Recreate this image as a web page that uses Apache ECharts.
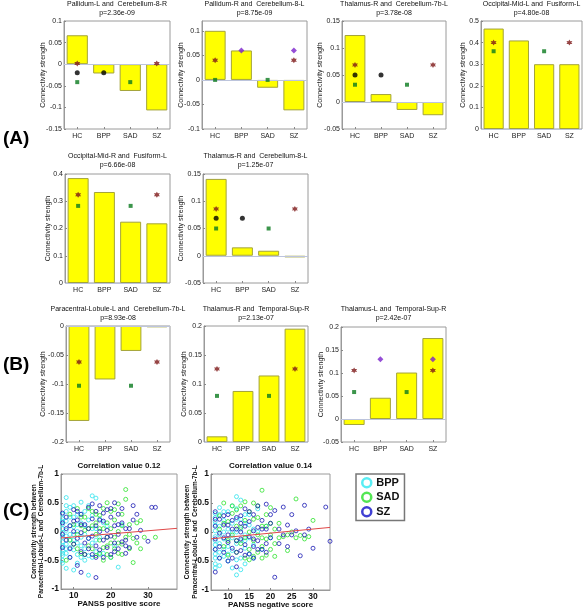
<!DOCTYPE html>
<html><head><meta charset="utf-8">
<script src="https://cdn.jsdelivr.net/npm/echarts@6/dist/echarts.min.js"></script>
<style>html,body{margin:0;padding:0;background:#fff}#c{width:585px;height:610px}</style>
</head><body><div id="c"></div>
<script>
// ---------- DATA ----------
const categories = ['HC', 'BPP', 'SAD', 'SZ'];

const p1Title = 'Pallidum-L and  Cerebellum-8-R', p1P = 'p=2.36e-09';
const p1Bars = [0.067, -0.0215, -0.062, -0.107];
const p1Star = [['HC', 0.0015], ['SZ', 0.0015]];
const p1Circle = [['HC', -0.02], ['BPP', -0.02]];
const p1Square = [['HC', -0.0415], ['SAD', -0.0415]];
const p1Diamond = [];
const p1Ticks = [-0.15, -0.1, -0.05, 0, 0.05, 0.1];

const p2Title = 'Pallidum-R and  Cerebellum-8-L', p2P = 'p=8.75e-09';
const p2Bars = [0.1, 0.06, -0.016, -0.062];
const p2Star = [['HC', 0.04], ['SZ', 0.04]];
const p2Circle = [];
const p2Square = [['HC', 0.0], ['SAD', 0.0]];
const p2Diamond = [['BPP', 0.06], ['SZ', 0.06]];
const p2Ticks = [-0.1, -0.05, 0, 0.05, 0.1];

const p3Title = 'Thalamus-R and  Cerebellum-7b-L', p3P = 'p=3.78e-08';
const p3Bars = [0.124, 0.0147, -0.0147, -0.0245];
const p3Star = [['HC', 0.0687], ['SZ', 0.0687]];
const p3Circle = [['HC', 0.05], ['BPP', 0.05]];
const p3Square = [['HC', 0.032], ['SAD', 0.032]];
const p3Diamond = [];
const p3Ticks = [-0.05, 0, 0.05, 0.1, 0.15];

const p4Title = 'Occipital-Mid-L and  Fusiform-L', p4P = 'p=4.80e-08';
const p4Bars = [0.465, 0.41, 0.30, 0.30];
const p4Star = [['HC', 0.40], ['SZ', 0.40]];
const p4Circle = [];
const p4Square = [['HC', 0.36], ['SAD', 0.36]];
const p4Diamond = [];
const p4Ticks = [0, 0.1, 0.2, 0.3, 0.4, 0.5];

const p5Title = 'Occipital-Mid-R and  Fusiform-L', p5P = 'p=6.66e-08';
const p5Bars = [0.385, 0.334, 0.225, 0.219];
const p5Star = [['HC', 0.324], ['SZ', 0.324]];
const p5Circle = [];
const p5Square = [['HC', 0.283], ['SAD', 0.283]];
const p5Diamond = [];
const p5Ticks = [0, 0.1, 0.2, 0.3, 0.4];

const p6Title = 'Thalamus-R and  Cerebellum-8-L', p6P = 'p=1.25e-07';
const p6Bars = [0.141, 0.0154, 0.0092, -0.003];
const p6Star = [['HC', 0.086], ['SZ', 0.086]];
const p6Circle = [['HC', 0.069], ['BPP', 0.069]];
const p6Square = [['HC', 0.05], ['SAD', 0.05]];
const p6Diamond = [];
const p6Ticks = [-0.05, 0, 0.05, 0.1, 0.15];

const p7Title = 'Paracentral-Lobule-L and  Cerebellum-7b-L', p7P = 'p=8.93e-08';
const p7Bars = [-0.1637, -0.0922, -0.043, -0.0023];
const p7Star = [['HC', -0.062], ['SZ', -0.062]];
const p7Circle = [];
const p7Square = [['HC', -0.103], ['SAD', -0.103]];
const p7Diamond = [];
const p7Ticks = [-0.2, -0.15, -0.1, -0.05, 0];

const p8Title = 'Thalamus-R and  Temporal-Sup-R', p8P = 'p=2.13e-07';
const p8Bars = [0.0098, 0.088, 0.1147, 0.1954];
const p8Star = [['HC', 0.126], ['SZ', 0.126]];
const p8Circle = [];
const p8Square = [['HC', 0.0795], ['SAD', 0.0795]];
const p8Diamond = [];
const p8Ticks = [0, 0.05, 0.1, 0.15, 0.2];

const p9Title = 'Thalamus-L and  Temporal-Sup-R', p9P = 'p=2.42e-07';
const p9Bars = [-0.013, 0.0462, 0.101, 0.176];
const p9Star = [['HC', 0.1056], ['SZ', 0.1056]];
const p9Circle = [];
const p9Square = [['HC', 0.0586], ['SAD', 0.0586]];
const p9Diamond = [['BPP', 0.1297], ['SZ', 0.1297]];
const p9Ticks = [-0.05, 0, 0.05, 0.1, 0.15, 0.2];

// scatter: PANSS positive
const posTitle = 'Correlation value 0.12';
const posXTicks = [10, 20, 30];
const bppPos = [[7,0.30],[7,0.22],[7,0.12],[7,0.05],[7,-0.02],[7,-0.10],[7,-0.18],[7,-0.25],[7,-0.33],[7,-0.42],[7,-0.50],[7,-0.55],
[8,0.59],[8,0.35],[8,0.18],[8,0.02],[8,-0.08],[8,-0.22],[8,-0.38],[8,-0.64],[9,0.42],[9,0.10],[9,-0.05],[9,-0.28],[9,-0.45],
[10,0.25],[10,0.08],[10,-0.15],[10,-0.32],[10,-0.67],[11,0.30],[11,0.00],[11,-0.20],[11,-0.40],[12,0.51],[12,0.15],[12,-0.10],[12,-0.25],[12,-0.45],
[13,0.35],[13,-0.05],[13,-0.30],[14,0.20],[14,-0.12],[14,-0.42],[14,-0.76],[15,0.62],[15,0.28],[15,-0.20],[16,0.58],[16,0.05],[16,-0.35],
[17,0.22],[17,-0.10],[18,-0.38],[19,0.10],[20,-0.45],[22,-0.62],[23,0.12],
[7,0.18],[7,-0.38],[8,0.45],[8,-0.30],[9,0.25],[9,-0.15],[10,0.45],[10,-0.05],[11,0.12],[11,-0.55],[12,0.30],[13,0.10],[13,-0.50],
[14,0.45],[15,0.05],[15,-0.45],[16,-0.15],[17,-0.40],[18,0.15],[21,-0.25]];
const sadPos = [[8,-0.50],[9,0.30],[10,-0.22],[11,0.40],[11,-0.05],[12,0.10],[12,-0.38],[13,0.25],[13,-0.40],[14,0.05],[14,-0.25],[15,0.35],[15,-0.30],
[16,0.15],[16,-0.05],[16,-0.42],[17,0.28],[17,-0.15],[17,-0.38],[18,0.05],[18,-0.28],[18,-0.50],[19,0.50],[19,0.15],[19,-0.10],[19,-0.40],
[20,0.35],[20,-0.20],[20,-0.45],[21,0.20],[21,-0.30],[22,0.48],[22,0.00],[22,-0.38],[23,0.10],[23,-0.22],[24,0.73],[24,0.56],[24,-0.10],
[25,-0.05],[25,-0.30],[26,-0.54],[26,-0.12],[27,0.15],[28,0.19],[29,-0.10],[32,-0.10],[38,0.42],
[9,-0.15],[10,0.12],[11,-0.30],[12,0.25],[13,0.02],[14,0.40],[15,0.10],[16,0.30],[17,0.05],[18,0.40],[19,-0.25],[20,0.05],[21,-0.10],
[21,0.38],[22,-0.20],[23,0.30],[23,-0.40],[25,0.12],[27,-0.20],[28,-0.30]];
const szPos = [[7,0.32],[7,0.15],[7,-0.05],[7,-0.28],[8,0.25],[8,-0.15],[9,0.10],[9,-0.30],[10,0.38],[10,0.00],[10,-0.22],[11,0.20],[11,-0.12],[11,-0.59],
[12,0.30],[12,-0.02],[12,-0.35],[12,-0.71],[13,0.12],[13,-0.20],[14,0.42],[14,0.05],[14,-0.30],[15,0.22],[15,-0.08],[15,-0.40],
[16,0.35],[16,0.10],[16,-0.25],[16,-0.80],[17,0.45],[17,0.00],[17,-0.32],[18,0.18],[18,-0.15],[18,-0.45],[19,0.38],[19,0.02],[19,-0.28],
[20,0.25],[20,-0.08],[20,-0.40],[21,0.50],[21,0.10],[21,-0.20],[22,0.30],[22,-0.05],[22,-0.30],[23,0.40],[23,0.15],[24,-0.15],[24,-0.25],[24,-0.38],
[25,0.05],[26,0.45],[27,-0.10],[28,0.02],[30,-0.17],[31,0.42],[32,0.42],
[8,0.05],[9,-0.45],[10,0.18],[11,0.35],[12,0.12],[13,-0.40],[14,-0.12],[15,0.48],[16,-0.45],[17,0.20],[18,0.32],[19,-0.10],[20,0.40],
[21,-0.35],[22,0.12],[23,-0.18],[24,0.05],[25,-0.28],[26,0.20],[27,0.30]];
const fitPos = [[6.6,-0.113],[37.8,0.055]];

// scatter: PANSS negative
const negTitle = 'Correlation value 0.14';
const negXTicks = [10, 15, 20, 25, 30];
const bppNeg = [[7,0.25],[7,0.12],[7,0.02],[7,-0.08],[7,-0.15],[7,-0.22],[7,-0.30],[7,-0.38],[7,-0.45],[7,-0.55],[7,-0.62],
[8,0.30],[8,0.10],[8,-0.05],[8,-0.20],[8,-0.35],[8,-0.58],[9,0.20],[9,0.00],[9,-0.12],[9,-0.42],[10,0.35],[10,0.05],[10,-0.25],[10,-0.50],
[11,0.15],[11,-0.10],[11,-0.32],[11,-0.62],[12,0.61],[12,0.40],[12,0.00],[12,-0.20],[12,-0.74],[13,0.55],[13,0.22],[13,-0.15],[13,-0.45],
[14,0.30],[14,-0.05],[14,-0.28],[14,-0.55],[15,0.12],[15,-0.38],[16,0.05],[16,-0.22],[17,0.40],[18,-0.30],[19,0.10],[20,-0.10],
[7,0.32],[7,0.18],[8,0.42],[8,-0.45],[9,0.35],[9,-0.30],[10,-0.12],[10,-0.38],[11,0.45],[11,0.00],[12,0.22],[12,-0.48],[13,0.05],[13,-0.65],
[14,0.15],[14,-0.15],[15,0.30],[15,-0.10],[16,-0.45],[17,0.00]];
const sadNeg = [[8,0.28],[9,0.50],[9,-0.25],[10,0.18],[10,-0.40],[11,0.32],[11,-0.05],[12,0.10],[12,-0.35],[13,0.45],[13,-0.20],[14,0.20],[14,-0.45],
[15,0.35],[15,0.00],[15,-0.30],[16,0.50],[16,-0.15],[16,-0.42],[17,0.25],[17,-0.05],[17,-0.35],[18,0.72],[18,0.10],[18,-0.25],[18,-0.45],
[19,0.30],[19,-0.12],[20,0.15],[20,-0.30],[21,0.05],[21,-0.42],[22,-0.10],[23,-0.08],[24,-0.05],[25,0.00],[26,0.57],[26,-0.10],[27,-0.06],
[28,-0.12],[29,-0.08],[30,0.20],
[8,0.05],[9,0.15],[10,-0.15],[11,0.45],[12,0.38],[12,-0.15],[13,0.08],[14,-0.10],[14,0.52],[15,-0.48],[16,0.22],[17,0.45],[18,-0.10],
[19,0.10],[19,-0.40],[20,0.42],[20,-0.05],[21,-0.20],[22,0.15],[24,-0.32]];
const szNeg = [[7,0.35],[7,0.10],[7,-0.12],[7,-0.30],[7,-0.69],[8,0.22],[8,-0.02],[8,-0.25],[9,0.12],[9,-0.10],[9,-0.35],[10,0.30],[10,-0.05],[10,-0.18],
[11,0.20],[11,-0.28],[11,-0.45],[12,0.05],[12,-0.15],[12,-0.60],[13,0.28],[13,0.00],[13,-0.32],[14,0.40],[14,0.10],[14,-0.22],[15,0.18],[15,-0.08],[15,-0.38],
[16,0.30],[16,0.02],[16,-0.25],[17,0.45],[17,0.08],[17,-0.15],[18,0.20],[18,-0.30],[19,0.48],[19,0.05],[19,-0.20],[20,0.15],[20,-0.10],
[21,0.37],[21,-0.78],[22,0.05],[23,0.43],[23,-0.05],[24,0.12],[25,0.30],[25,-0.05],[26,0.02],[27,-0.41],[28,0.46],[28,-0.05],[29,0.05],
[30,-0.28],[33,0.43],[34,-0.16],
[7,0.22],[8,-0.45],[9,0.28],[10,0.12],[10,-0.50],[11,0.05],[12,0.25],[12,-0.35],[13,0.15],[13,-0.12],[14,-0.40],[15,0.35],[16,-0.12],
[16,-0.45],[17,-0.30],[18,0.05],[19,-0.35],[20,0.30],[22,-0.20],[24,-0.25]];
const fitNeg = [[6,-0.118],[34,0.079]];
const groupNames = ['BPP', 'SAD', 'SZ'];

// ---------- LAYOUT / STYLE ----------
const FONT = '"Liberation Sans", Arial, sans-serif';
const barPanels = [
  {t:p1Title,p:p1P,bars:p1Bars,star:p1Star,circle:p1Circle,square:p1Square,diamond:p1Diamond,ticks:p1Ticks,min:-0.15,max:0.1},
  {t:p2Title,p:p2P,bars:p2Bars,star:p2Star,circle:p2Circle,square:p2Square,diamond:p2Diamond,ticks:p2Ticks,min:-0.1,max:0.12},
  {t:p3Title,p:p3P,bars:p3Bars,star:p3Star,circle:p3Circle,square:p3Square,diamond:p3Diamond,ticks:p3Ticks,min:-0.05,max:0.15},
  {t:p4Title,p:p4P,bars:p4Bars,star:p4Star,circle:p4Circle,square:p4Square,diamond:p4Diamond,ticks:p4Ticks,min:0,max:0.5},
  {t:p5Title,p:p5P,bars:p5Bars,star:p5Star,circle:p5Circle,square:p5Square,diamond:p5Diamond,ticks:p5Ticks,min:0,max:0.4},
  {t:p6Title,p:p6P,bars:p6Bars,star:p6Star,circle:p6Circle,square:p6Square,diamond:p6Diamond,ticks:p6Ticks,min:-0.05,max:0.15},
  {t:p7Title,p:p7P,bars:p7Bars,star:p7Star,circle:p7Circle,square:p7Square,diamond:p7Diamond,ticks:p7Ticks,min:-0.2,max:0},
  {t:p8Title,p:p8P,bars:p8Bars,star:p8Star,circle:p8Circle,square:p8Square,diamond:p8Diamond,ticks:p8Ticks,min:0,max:0.2},
  {t:p9Title,p:p9P,bars:p9Bars,star:p9Star,circle:p9Circle,square:p9Square,diamond:p9Diamond,ticks:p9Ticks,min:-0.05,max:0.2}
];
const barGrids = [[64,21,106,108],[202,21,105,108],[342,21,104,108],[481,21,101,108],
                  [65,174,105,109],[203,174,105,109],
                  [66,326,104,116],[204,326,104,116],[341,327,105,115]];
const barNameGaps = [17.5,17,18,14.5,13.5,18,19,16,16.5];
const titleTops = [0,0,0,0,152,152,304.5,304.5,305];
const groupColors = ['#2ee3ee', '#2ee32e', '#1a1ab4'];
const legendColors = ['#30e8f0', '#28e028', '#1010c8'];

function hexagram() {
  const pts = [];
  for (let i = 0; i < 12; i++) {
    const a = -Math.PI / 2 + i * Math.PI / 6;
    const r = i % 2 ? 0.55 : 1;
    pts.push((Math.cos(a) * r).toFixed(3) + ' ' + (Math.sin(a) * r).toFixed(3));
  }
  return 'path://M' + pts.join(' L') + ' Z';
}
const STAR = hexagram();

const option = {
  animation: false,
  backgroundColor: '#fff',
  textStyle: { fontFamily: FONT },
  title: [], grid: [], xAxis: [], yAxis: [], series: []
};

barPanels.forEach((pn, i) => {
  const [l, t, w, h] = barGrids[i];
  option.grid.push({ left: l, top: t, width: w, height: h, show: true, borderColor: '#9a9a9a', borderWidth: 1 });
  option.title.push({ text: pn.t + '\n' + pn.p, left: l + w / 2, top: titleTops[i], textAlign: 'center', padding: 0,
    textStyle: { fontSize: 7, fontWeight: 'normal', color: '#111', lineHeight: 8.8, fontFamily: FONT } });
  option.xAxis.push({ type: 'category', gridIndex: i, data: categories,
    axisLine: { show: false, onZero: false },
    axisTick: { show: true, inside: true, length: 2, alignWithLabel: true, lineStyle: { color: '#888' } },
    axisLabel: { fontSize: 7, color: '#222', margin: 4, fontFamily: FONT } });
  option.yAxis.push({ type: 'value', gridIndex: i, min: pn.min, max: pn.max,
    axisLine: { show: true, lineStyle: { color: '#9a9a9a' } },
    axisTick: { show: true, inside: true, length: 2, customValues: pn.ticks, lineStyle: { color: '#888' } },
    axisLabel: { customValues: pn.ticks, fontSize: 7, color: '#222', margin: 2, fontFamily: FONT },
    splitLine: { show: false },
    name: 'Connectivity strength', nameLocation: 'middle', nameGap: barNameGaps[i], nameMoveOverlap: false,
    nameTextStyle: { fontSize: 7, color: '#222', fontFamily: FONT } });
  option.series.push({ type: 'bar', xAxisIndex: i, yAxisIndex: i, data: pn.bars, barCategoryGap: '20%',
    itemStyle: { color: '#ffff00', borderColor: '#a3a33a', borderWidth: 1 },
    markLine: { silent: true, symbol: 'none', label: { show: false },
      lineStyle: { color: '#bcc4dc', width: 1, type: 'solid' }, data: [{ yAxis: 0 }] } });
  const mk = (data, symbol, size, color) => ({ type: 'scatter', xAxisIndex: i, yAxisIndex: i, data,
    symbol, symbolSize: size, itemStyle: { color }, z: 5, silent: true });
  option.series.push(mk(pn.star, STAR, 6, '#7d1616'));
  option.series.push(mk(pn.circle, 'circle', 5, '#000'));
  option.series.push(mk(pn.square, 'rect', 4, '#0a7a1e'));
  option.series.push(mk(pn.diamond, 'diamond', 6, '#7b22cc'));
});

// scatter panels
const scatterPanels = [
  { grid: [61, 474, 116, 115], title: posTitle, xmin: 6.6, xmax: 37.8, xTicks: posXTicks, xName: 'PANSS positive score',
    groups: [bppPos, sadPos, szPos], fit: fitPos, nameGap: 15.5 },
  { grid: [211, 474, 119, 116], title: negTitle, xmin: 6, xmax: 34, xTicks: negXTicks, xName: 'PANSS negative score',
    groups: [bppNeg, sadNeg, szNeg], fit: fitNeg, nameGap: 12 }
];
scatterPanels.forEach((sp, k) => {
  const gi = option.grid.length;
  const [l, t, w, h] = sp.grid;
  option.grid.push({ left: l, top: t, width: w, height: h, show: true, borderColor: '#9a9a9a', borderWidth: 1 });
  option.title.push({ text: sp.title, left: l + w / 2, top: 462, textAlign: 'center', padding: 0,
    textStyle: { fontSize: 8, fontWeight: 'bold', color: '#111', fontFamily: FONT } });
  option.xAxis.push({ type: 'value', gridIndex: gi, min: sp.xmin, max: sp.xmax,
    axisLine: { show: true, onZero: false, lineStyle: { color: '#9a9a9a' } },
    axisTick: { show: true, inside: true, length: 2, customValues: sp.xTicks, lineStyle: { color: '#888' } },
    axisLabel: { customValues: sp.xTicks, fontSize: 8.5, fontWeight: 'bold', color: '#111', margin: 2, fontFamily: FONT },
    splitLine: { show: false },
    name: sp.xName, nameLocation: 'middle', nameGap: 11, nameMoveOverlap: false,
    nameTextStyle: { fontSize: 8, fontWeight: 'bold', color: '#111', fontFamily: FONT } });
  option.yAxis.push({ type: 'value', gridIndex: gi, min: -1, max: 1, interval: 0.5,
    axisLine: { show: true, onZero: false, lineStyle: { color: '#9a9a9a' } },
    axisTick: { show: true, inside: true, length: 2, lineStyle: { color: '#888' } },
    axisLabel: { fontSize: 8.5, fontWeight: 'bold', color: '#111', margin: 2, fontFamily: FONT },
    splitLine: { show: false },
    name: 'Connectivity strength between\nParacentral-Lobule-L and  Cerebellum-7b-L',
    nameLocation: 'middle', nameGap: sp.nameGap, nameMoveOverlap: false,
    nameTextStyle: { fontSize: 6.5, fontWeight: 'bold', color: '#111', lineHeight: 7.7, fontFamily: FONT } });
  sp.groups.forEach((g, j) => {
    option.series.push({ type: 'scatter', name: groupNames[j], xAxisIndex: gi, yAxisIndex: gi, data: g,
      symbol: 'circle', symbolSize: 4,
      itemStyle: { color: 'rgba(0,0,0,0)', borderColor: groupColors[j], borderWidth: 1 }, silent: true });
  });
  option.series.push({ type: 'line', xAxisIndex: gi, yAxisIndex: gi, data: sp.fit, symbol: 'none',
    lineStyle: { color: '#e04848', width: 1 }, z: 6, silent: true });
});

// section labels
[['(A)', 129], ['(B)', 355], ['(C)', 501.5]].forEach(([txt, top]) => {
  option.title.push({ text: txt, left: 3, top, padding: 0,
    textStyle: { fontSize: 19, fontWeight: 'bold', color: '#000', fontFamily: FONT } });
});

option.legend = {
  left: 356, top: 474, orient: 'vertical', padding: [3, 5, 3, 5], itemGap: 3,
  itemWidth: 9, itemHeight: 9, borderColor: '#777', borderWidth: 1.5, backgroundColor: '#fff',
  textStyle: { fontSize: 11, fontWeight: 'bold', color: '#111', fontFamily: FONT },
  data: groupNames.map((n, j) => ({ name: n, icon: 'circle',
    itemStyle: { color: '#fff', borderColor: legendColors[j], borderWidth: 2.5 } })),
  selectedMode: false
};

const chart = echarts.init(document.getElementById('c'), null, { renderer: 'canvas' });
chart.setOption(option);
</script>
</body></html>
